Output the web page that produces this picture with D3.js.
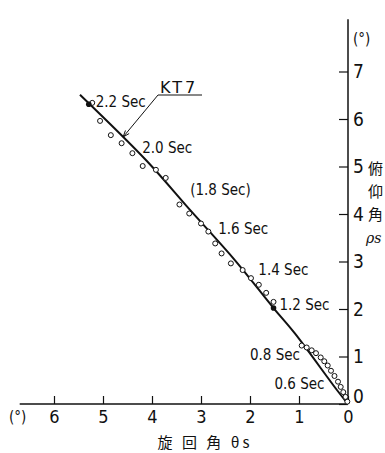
<!DOCTYPE html>
<html>
<head>
<meta charset="utf-8">
<script src="https://cdn.jsdelivr.net/npm/d3@7"></script>
<style>
  body { margin: 0; background: #fff; }
  svg text { fill: #111; }
</style>
</head>
<body>
<script>
// turning angle (x) vs pitch angle (y), in degrees
var xTicks = [0, 1, 2, 3, 4, 5, 6];
var yTicks = [0, 1, 2, 3, 4, 5, 6, 7];

// KT7 curve
var lineX = [5.47, 4.11, 3.22, 2.31, 1.52, 1.08, 0.23, 0];
var lineY = [6.51, 5.12, 4.08, 3.03, 2.02, 1.48, 0.30, 0];

// measured points (open circles)
var ptX = [5.22, 5.06, 4.84, 4.62, 4.40, 4.19, 3.92, 3.72, 3.44, 3.24, 3.00, 2.85, 2.71, 2.58,
  2.39, 2.15, 1.98, 1.82, 1.67, 1.52,
  0.945, 0.843, 0.741, 0.653, 0.557, 0.484, 0.414, 0.347, 0.276, 0.204, 0.149, 0.096, 0.051, 0.014];
var ptY = [6.34, 5.96, 5.66, 5.49, 5.28, 5.01, 4.93, 4.76, 4.20, 4.01, 3.80, 3.63, 3.38, 3.17,
  2.96, 2.82, 2.65, 2.51, 2.34, 2.15,
  1.23, 1.19, 1.13, 1.07, 0.98, 0.90, 0.81, 0.70, 0.59, 0.47, 0.36, 0.25, 0.15, 0.05];

// filled points
var dotX = [5.29, 1.52];
var dotY = [6.31, 2.02];

// time labels
var timeText = ["2.2 Sec", "2.0 Sec", "(1.8 Sec)", "1.6 Sec", "1.4 Sec", "1.2 Sec", "0.8 Sec", "0.6 Sec"];
var timeX = [5.15, 4.2, 3.22, 2.65, 1.83, 1.4, 2.0, 1.5];
var timeY = [6.37, 5.4, 4.52, 3.7, 2.82, 2.08, 1.03, 0.42];

var width = 385, height = 453;
var font = "'DejaVu Sans',sans-serif";

var svg = d3.select("body").append("svg")
  .attr("width", width)
  .attr("height", height);

var x = d3.scaleLinear().domain([0, 6]).range([348, 54]);
var y = d3.scaleLinear().domain([0, 7]).range([404, 71.5]);

// axis lines
svg.append("line")
  .attr("x1", x(0)).attr("x2", x(6.7))
  .attr("y1", y(0)).attr("y2", y(0))
  .attr("stroke", "#111").attr("stroke-width", 1.5);
svg.append("line")
  .attr("x1", x(0)).attr("x2", x(0))
  .attr("y1", y(0)).attr("y2", y(8.1))
  .attr("stroke", "#111").attr("stroke-width", 1.5);

// x axis (ticks point up)
var xAxis = svg.append("g")
  .attr("transform", "translate(0," + y(0) + ")")
  .call(d3.axisBottom(x).tickValues(xTicks).tickSizeInner(-8).tickSizeOuter(0).tickPadding(6).tickFormat(d3.format("d")));
xAxis.select(".domain").remove();
xAxis.selectAll("line").attr("stroke", "#111").attr("stroke-width", 1.2);
xAxis.selectAll("text").attr("font-family", font).attr("font-stretch", "condensed").attr("font-size", 18).attr("fill", "#111");

// y axis (ticks point left, labels right)
var yAxis = svg.append("g")
  .attr("transform", "translate(" + x(0) + ",0)")
  .call(d3.axisRight(y).tickValues(yTicks).tickSizeInner(-9).tickSizeOuter(0).tickPadding(5).tickFormat(d3.format("d")));
yAxis.select(".domain").remove();
yAxis.selectAll("line").attr("stroke", "#111").attr("stroke-width", 1.2);
yAxis.selectAll("text").attr("font-family", font).attr("font-stretch", "condensed").attr("font-size", 19).attr("fill", "#111");
yAxis.selectAll(".tick").filter(function(d) { return d === 0; }).select("text").attr("dy", "-0.1em");

// unit labels
svg.append("text").attr("x", 9).attr("y", 422)
  .attr("font-family", font).attr("font-stretch", "condensed").attr("font-size", 15).text("(°)");
svg.append("text").attr("x", 353).attr("y", 44)
  .attr("font-family", font).attr("font-stretch", "condensed").attr("font-size", 15).text("(°)");

// axis titles
svg.append("text").attr("x", 205).attr("y", 448).attr("text-anchor", "middle")
  .attr("font-family", "'Noto Sans CJK JP',sans-serif").attr("font-size", 15)
  .attr("letter-spacing", 3)
  .text("旋 回 角 θs");

var yTitle = ["俯", "仰", "角"];
svg.selectAll(".ytitle").data(yTitle).enter().append("text")
  .attr("class", "ytitle")
  .attr("x", 368)
  .attr("y", function(d, i) { return 174 + i * 23; })
  .attr("font-family", "'Noto Sans CJK JP',sans-serif").attr("font-size", 15)
  .text(function(d) { return d; });
svg.append("text").attr("x", 366).attr("y", 243)
  .attr("font-family", "'DejaVu Serif',serif").attr("font-style", "italic").attr("font-size", 14)
  .text("ρs");

// curve
var pts = lineX.map(function(v, i) { return [v, lineY[i]]; });
svg.append("path")
  .datum(pts)
  .attr("fill", "none")
  .attr("stroke", "#111")
  .attr("stroke-width", 2)
  .attr("d", d3.line().x(function(d) { return x(d[0]); }).y(function(d) { return y(d[1]); }).curve(d3.curveCatmullRom));

// open circles
svg.selectAll(".pt").data(ptX).enter().append("circle")
  .attr("class", "pt")
  .attr("cx", function(d) { return x(d); })
  .attr("cy", function(d, i) { return y(ptY[i]); })
  .attr("r", 2.5)
  .attr("fill", "#fff")
  .attr("stroke", "#111")
  .attr("stroke-width", 1);

// filled dots
svg.selectAll(".dot").data(dotX).enter().append("circle")
  .attr("class", "dot")
  .attr("cx", function(d) { return x(d); })
  .attr("cy", function(d, i) { return y(dotY[i]); })
  .attr("r", 2.8)
  .attr("fill", "#111");

// time labels
svg.selectAll(".tlab").data(timeText).enter().append("text")
  .attr("class", "tlab")
  .attr("x", function(d, i) { return x(timeX[i]); })
  .attr("y", function(d, i) { return y(timeY[i]); })
  .attr("dy", "0.35em")
  .attr("font-family", font)
  .attr("font-stretch", "condensed")
  .attr("font-size", 15)
  .text(function(d) { return d; });

// KT7 label with leader arrow
svg.append("text").attr("x", 160).attr("y", 93)
  .attr("font-family", font).attr("font-size", 16).attr("letter-spacing", 3).text("KT7");
svg.append("line")
  .attr("x1", 158).attr("x2", 202).attr("y1", 95).attr("y2", 95)
  .attr("stroke", "#111").attr("stroke-width", 1);
var tip = [x(4.59), y(5.62)];
svg.append("line")
  .attr("x1", 158).attr("y1", 95).attr("x2", tip[0]).attr("y2", tip[1])
  .attr("stroke", "#111").attr("stroke-width", 1);
var ang = Math.atan2(tip[1] - 95, tip[0] - 158);
var ah = 7;
svg.append("path")
  .attr("d", "M" + tip[0] + "," + tip[1] +
    "L" + (tip[0] - ah * Math.cos(ang - 0.35)) + "," + (tip[1] - ah * Math.sin(ang - 0.35)) +
    "M" + tip[0] + "," + tip[1] +
    "L" + (tip[0] - ah * Math.cos(ang + 0.35)) + "," + (tip[1] - ah * Math.sin(ang + 0.35)))
  .attr("stroke", "#111").attr("stroke-width", 1).attr("fill", "none");
</script>
</body>
</html>
